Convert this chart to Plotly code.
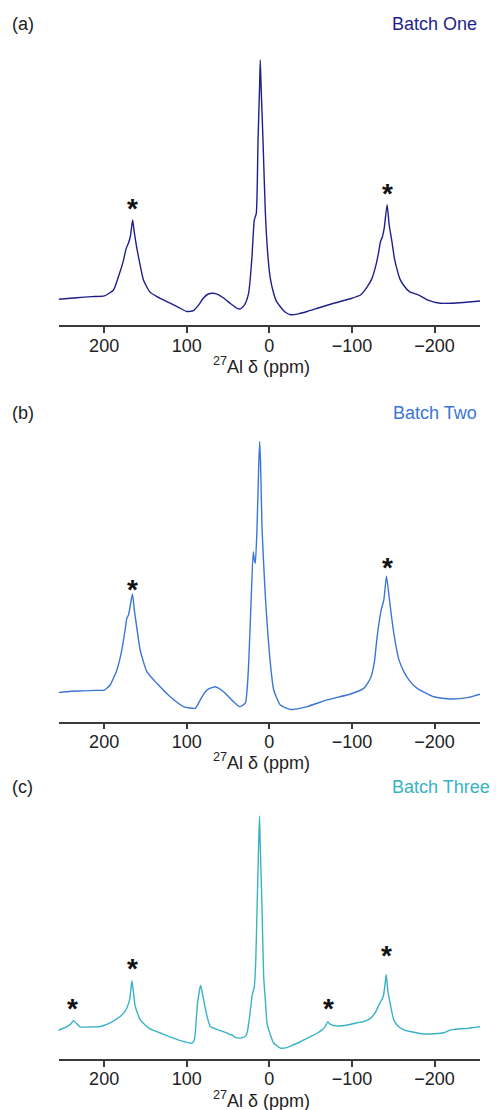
import plotly.graph_objects as go

# ---------------- data ----------------
ppm_one = [255, 233, 215, 199.6, 188.7, 182.7, 177, 173.3, 170.5, 168, 165.5, 163.5, 160.4, 156, 152.4,
           145, 136, 124, 110, 100, 92, 86, 80, 74, 68, 62, 55, 47, 39, 35, 31, 28, 25.1, 23, 21, 18.2,
           15.8, 13.7, 11.8, 11, 10.0, 7.7, 4.8, 2, -1, -5.2, -9, -13.3, -19, -25.5, -35, -45.7, -60, -78,
           -100, -110.3, -118.4, -124, -128.5, -132, -134.5, -137, -139, -142.6, -145, -148.7, -151.5,
           -154.8, -158, -162.8, -170, -181, -192, -207, -220, -235, -255.8]
int_one = [9.8, 10.4, 10.8, 11.1, 13.3, 18.3, 24, 29, 31, 34, 39.7, 35, 29, 22, 17.1,
           12.7, 10.8, 8.9, 6.8, 5.2, 5.5, 7.5, 10.2, 11.8, 12.1, 11.6, 10.2, 8.2, 6.4, 6.2, 7.3, 9, 12.1, 18, 25.9, 39.7,
           42.2, 69.8, 90, 100, 90, 69.8, 42.2, 27.1, 18, 12.1, 8.8, 7, 5, 4, 4.3, 5.2, 6.6, 8.3,
           10.2, 11.4, 14.5, 17.5, 22, 27, 31.5, 33.5, 36.5, 45.5, 38, 30.9, 25,
           20.8, 17.5, 15, 12.6, 11.4, 9.5, 8.3, 8.3, 8.6, 9.2]

ppm_two = [255, 240, 225, 210, 199.6, 192.7, 184.6, 178.6, 174.5, 172.5, 170.5, 168, 165.7, 163.5, 161.2,
           156.4, 148.3, 136.2, 120, 103.8, 89.7, 83.6, 78, 73.5, 65.5, 55.4, 43.2, 36, 29.1, 27, 25, 22.2,
           19.5, 18, 17, 15, 12.8, 11.7, 10.6, 8.8, 4.8, -1.2, -5.3, -13.3, -25.5, -45.7, -69.9, -98.2,
           -114.3, -122.4, -127, -130.5, -135.4, -138.6, -141.8, -145.9, -149, -152.7, -157, -162.8, -170,
           -179, -199.2, -219.4, -240, -255.8]
int_two = [10.4, 10.9, 11, 11.2, 11.3, 13.1, 18.5, 25.6, 33, 37, 38.1, 42, 45.6, 40, 35.1,
           25.6, 17.9, 13.7, 8.9, 5.4, 4.8, 7.8, 10.5, 11.7, 12.5, 10.7, 7.1, 5.4, 6.6, 11.3, 21, 42.3,
           60.7, 57.5, 56.6, 68.5, 92, 100, 92, 68.5, 44.6, 20.9, 11.3, 6, 4.4, 5.4, 7.8, 9.9,
           11.9, 15.5, 21, 30.4, 39.9, 43.5, 52, 42.3, 35, 28, 22, 17.9, 14.5,
           11.9, 8.9, 8.1, 8.6, 9.9]

ppm_three = [255.8, 245, 240, 237.2, 233, 229.1, 215, 204.8, 192, 180.6, 175, 172.5, 169, 166.4, 164, 162.4,
             156.4, 145, 132.1, 118, 103.9, 93.7, 91, 89.7, 86.9, 83.2, 80.5, 78.8, 75, 71.5, 62, 51.3, 47,
             45.2, 42, 35.2, 29, 27, 24, 21, 18.2, 16.5, 14.9, 13, 11.9, 11, 8.8, 6.9, 4.8, 2.8, -1.2, -5.2,
             -13.3, -20, -25.5, -37.6, -49.7, -57.8, -63.8, -67, -70.7, -74, -82, -95, -106.3, -115, -122.4,
             -128, -132.5, -137.8, -139.8, -141.4, -143.5, -145.5, -150.7, -156, -162.8, -175, -187, -200,
             -211.2, -218, -223.4, -240, -255.8]
int_three = [11.7, 13.3, 14.5, 15.8, 14.5, 13.2, 13.2, 13.4, 15, 17.5, 19.5, 21, 24.5, 32.2, 26, 21.7,
             16.2, 12.5, 10.7, 8.8, 7.2, 6.5, 7.8, 10.7, 23, 30.3, 26, 23, 17, 13.4, 12, 10.7, 9.9,
             10.0, 9.0, 8.6, 9.4, 10.7, 17, 25.8, 29.9, 40, 61.3, 88, 100, 88, 61.3, 34, 24, 14.8, 10, 6.6,
             4.5, 4.6, 5.3, 7.1, 9.2, 10.6, 12, 13, 15.3, 14.2, 13.6, 14, 14.9, 15.5, 16.7,
             19, 22.1, 25.6, 30, 34.8, 28, 24.2, 16, 13.5, 12, 11, 10.3, 10.4,
             10.8, 11.8, 12.2, 12.6, 13.3]

batch_names = ["Batch One", "Batch Two", "Batch Three"]
panel_labels = ["(a)", "(b)", "(c)"]
colors = ["#1f1f8c", "#3a76d6", "#38b2c6"]

# spinning sidebands marked with asterisks: ppm and marker height (same units as intensity)
star_ppm = [[166, -143], [166, -143], [238, 166, -71, -142]]
star_int = [[46.6, 52.2], [49.6, 57.5], [23.6, 40, 23.6, 45.3]]

tick_vals = [200, 100, 0, -100, -200]
tick_text = ["200", "100", "0", "\u2212100", "\u2212200"]
x_title = "<sup>27</sup>Al \u03b4 (ppm)"

# ---------------- layout geometry (pixels) ----------------
W, H = 496, 1110
axis_px = [325.3, 721.7, 1059.0]   # y of the x-axis line
peak_px = [60.0, 441.7, 816.0]     # y of the tallest point
label_px = [24.0, 412.7, 786.7]
x_left, x_right = 58.7, 480.0
ymax = 103.0

fig = go.Figure()
data = [(ppm_one, int_one), (ppm_two, int_two), (ppm_three, int_three)]
font_family = "Liberation Sans, Arial, sans-serif"
annotations = []
for i, (px, iy) in enumerate(data):
    n = "" if i == 0 else str(i + 1)
    fig.add_trace(go.Scatter(x=px, y=iy, mode="lines",
                             line=dict(color=colors[i], width=1.4, shape="spline", smoothing=0.5),
                             xaxis="x" + n, yaxis="y" + n, showlegend=False, hoverinfo="skip"))
    scale = (axis_px[i] - peak_px[i]) / 100.0
    top_px = axis_px[i] - ymax * scale
    fig.layout["xaxis" + n] = dict(
        domain=[x_left / W, x_right / W], range=[255, -255], anchor="y" + n,
        tickvals=tick_vals, ticktext=tick_text, showline=True, linecolor="#3a3a3a", linewidth=1.5,
        ticks="outside", ticklen=6, tickwidth=1.5, tickcolor="#3a3a3a", showgrid=False, zeroline=False,
        ticklabelstandoff=-3,
        tickfont=dict(family=font_family, size=18, color="#222222"), fixedrange=True)
    fig.layout["yaxis" + n] = dict(
        domain=[1 - axis_px[i] / H, 1 - top_px / H], range=[0, ymax], visible=False,
        anchor="x" + n, fixedrange=True)
    annotations.append(dict(text=panel_labels[i], x=10 / W, y=1 - label_px[i] / H, xref="paper", yref="paper",
                            xanchor="left", yanchor="middle", showarrow=False,
                            font=dict(family=font_family, size=18, color="#222222")))
    right_px = 479 if i < 2 else 491.7
    annotations.append(dict(text=batch_names[i], x=right_px / W, y=1 - label_px[i] / H, xref="paper", yref="paper",
                            xanchor="right", yanchor="middle", showarrow=False,
                            font=dict(family=font_family, size=18, color=colors[i])))
    annotations.append(dict(text=x_title, x=261 / W, y=1 - (axis_px[i] + 40) / H, xref="paper", yref="paper",
                            xanchor="center", yanchor="middle", showarrow=False,
                            font=dict(family=font_family, size=18, color="#222222")))
    for sp, si in zip(star_ppm[i], star_int[i]):
        annotations.append(dict(text="<b>*</b>", x=sp, y=si, xref="x" + n, yref="y" + n,
                                xanchor="center", yanchor="middle", showarrow=False, yshift=-7,
                                font=dict(family=font_family, size=28, color="#111111")))

fig.update_layout(width=W, height=H, margin=dict(l=0, r=0, t=0, b=0),
                  plot_bgcolor="white", paper_bgcolor="white", annotations=annotations)
fig.write_html("out.html", config={"displayModeBar": False},
               post_script="document.body.style.margin='0';document.body.style.overflow='hidden';")
